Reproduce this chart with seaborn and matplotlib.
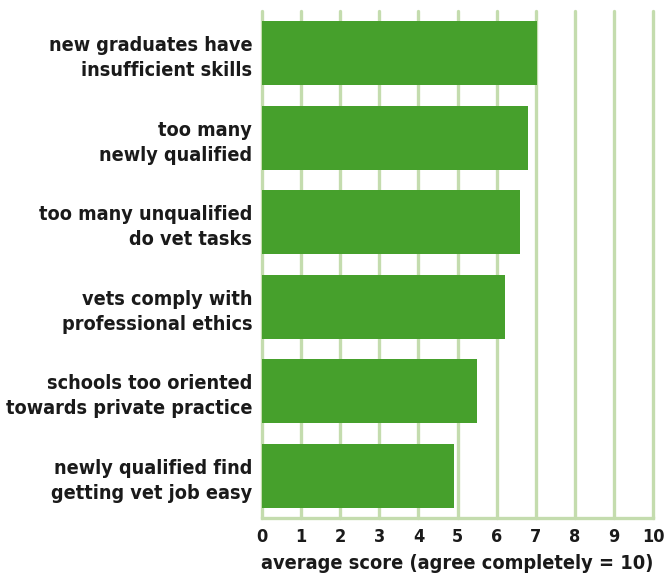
import matplotlib
matplotlib.use("Agg")
import matplotlib.pyplot as plt
import seaborn as sns
import pandas as pd

statements = [
    "new graduates have\ninsufficient skills",
    "too many\nnewly qualified",
    "too many unqualified\ndo vet tasks",
    "vets comply with\nprofessional ethics",
    "schools too oriented\ntowards private practice",
    "newly qualified find\ngetting vet job easy",
]
scores = [7.03, 6.81, 6.6, 6.22, 5.5, 4.92]
xticks = list(range(0, 11))

bar_color = "#46a02c"
grid_color = "#c4dcae"
text_color = "#1a1a1a"

sns.set_theme(style="white")
plt.rcParams["font.family"] = ["DejaVu Sans"]
plt.rcParams["font.stretch"] = "condensed"

df = pd.DataFrame({"statement": statements, "score": scores})

fig = plt.figure(figsize=(6.69, 5.77), dpi=100)
ax = fig.add_axes([262 / 669, 59 / 577, 391 / 669, 507 / 577])

sns.barplot(data=df, x="score", y="statement", color=bar_color,
            width=0.76, saturation=1, linewidth=0, ax=ax, zorder=3)

ax.set_xlim(0, 10)
ax.set_ylim(5.5, -0.5)
ax.set_xticks(xticks)
ax.set_xticklabels([str(t) for t in xticks], fontsize=13, fontweight="bold", color=text_color)
ax.tick_params(axis="both", length=0, pad=7)
for lab in ax.get_yticklabels():
    lab.set_fontsize(14.2)
    lab.set_fontweight("bold")
    lab.set_color(text_color)
    lab.set_linespacing(1.4)
ax.xaxis.grid(True, color=grid_color, linewidth=2.4, zorder=0)
for gl in ax.get_xgridlines():
    gl.set_clip_on(False)
ax.set_axisbelow(True)
for side in ["top", "right", "left"]:
    ax.spines[side].set_visible(False)
ax.spines["bottom"].set_color(grid_color)
ax.spines["bottom"].set_linewidth(2.4)
ax.set_ylabel("")
ax.set_xlabel("average score (agree completely = 10)", fontsize=14.3,
              fontweight="bold", color=text_color, labelpad=6)

fig.savefig("out.png", dpi=100)
